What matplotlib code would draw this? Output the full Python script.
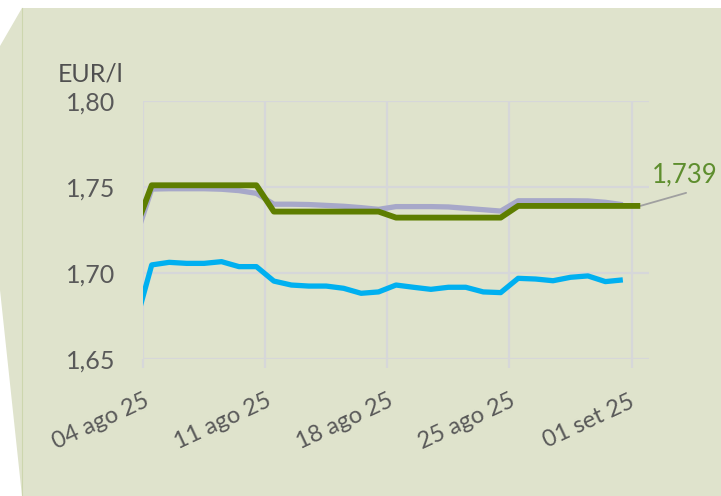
import numpy as np
import matplotlib
matplotlib.use("Agg")
import matplotlib.pyplot as plt
import matplotlib.dates as mdates
from matplotlib.patches import Polygon
from matplotlib.lines import Line2D

plt.rcParams['font.family'] = ['Lato', 'DejaVu Sans']

# ---- data -------------------------------------------------------------
dates = np.arange(np.datetime64('2025-08-03'), np.datetime64('2025-09-02'))
green = [1.724, 1.751, 1.751, 1.751, 1.751, 1.751, 1.751, 1.751,
         1.7357, 1.7357, 1.7357, 1.7357, 1.7357, 1.7357, 1.7357,
         1.7322, 1.7322, 1.7322, 1.7322, 1.7322, 1.7322, 1.7322,
         1.739, 1.739, 1.739, 1.739, 1.739, 1.739, 1.739, 1.739]
gray = [1.718, 1.7488, 1.749, 1.749, 1.749, 1.7487, 1.7479, 1.7463,
        1.740, 1.740, 1.7398, 1.7393, 1.7388, 1.738, 1.737,
        1.7386, 1.7386, 1.7386, 1.7384, 1.7376, 1.7368, 1.736,
        1.742, 1.742, 1.742, 1.742, 1.7419, 1.7411, 1.7397, np.nan]
cyan = [1.668, 1.7047, 1.7062, 1.7056, 1.7056, 1.7066, 1.7037, 1.7037,
        1.6953, 1.693, 1.6924, 1.6924, 1.6911, 1.6882, 1.689,
        1.693, 1.6917, 1.6905, 1.6917, 1.6917, 1.689, 1.6886,
        1.6969, 1.6965, 1.6955, 1.6975, 1.6983, 1.695, 1.696, np.nan]
tick_dates = ['2025-08-04', '2025-08-11', '2025-08-18', '2025-08-25', '2025-09-01']
tick_labels = ['04 ago 25', '11 ago 25', '18 ago 25', '25 ago 25', '01 set 25']
yticks = [1.65, 1.70, 1.75, 1.80]
ytick_labels = ['1,65', '1,70', '1,75', '1,80']
last_label = '1,739'

# ---- figure -----------------------------------------------------------
W, H = 721, 496
fig = plt.figure(figsize=(W / 100, H / 100), dpi=100, facecolor='white')

def fx(px):
    return px / W

def fy(py):
    return 1 - py / H

bg = '#dfe3cc'
poly = Polygon([(fx(22), fy(8)), (fx(721), fy(8)), (fx(721), fy(496)),
                (fx(22), fy(496)), (fx(0), fy(290)), (fx(0), fy(46))],
               closed=True, transform=fig.transFigure, facecolor=bg,
               edgecolor='none', zorder=-2)
fig.patches.append(poly)
fig.lines.append(Line2D([fx(22), fx(22)], [fy(8), fy(496)],
                        transform=fig.transFigure, color='#cdd6ae', lw=0.8,
                        zorder=-1))

ax = fig.add_axes([fx(143), fy(359), fx(649) - fx(143), fy(101) - fy(359)])
ax.set_facecolor('none')

xd = dates.astype('datetime64[h]') + np.timedelta64(12, 'h')
x = mdates.date2num(xd.astype('O'))

grid_c = '#d6d7d9'
ax.plot(x, gray, color='#a7a8c9', lw=3.8, solid_capstyle='butt', zorder=3)
ax.plot(x, green, color='#5e7e00', lw=4.2, solid_capstyle='butt', zorder=4)
ax.plot(x, cyan, color='#00b0f0', lw=3.8, solid_capstyle='butt', zorder=4)

x0 = mdates.date2num(np.datetime64('2025-08-04').astype('O'))
x1 = mdates.date2num(np.datetime64('2025-09-02').astype('O'))
ax.set_xlim(x0, x1)
ax.set_ylim(1.65, 1.80)

tx = [mdates.date2num(np.datetime64(d).astype('O')) for d in tick_dates]
ax.set_xticks(tx)
ax.set_xticklabels([''] * len(tx))
ax.set_yticks(yticks)
ax.set_yticklabels(ytick_labels)
for s in ax.spines.values():
    s.set_visible(False)
ax.grid(True, color=grid_c, lw=1.6)
ax.tick_params(axis='x', length=6.5, width=1.6, color=grid_c, direction='out')
ax.tick_params(axis='y', length=0, pad=20, labelsize=18, labelcolor='#595959')

for t, lab in zip(tx, tick_labels):
    ax.annotate(lab, xy=(t, 0), xycoords=('data', 'axes fraction'),
                xytext=(-30.5, -45), textcoords='offset points',
                ha='center', va='center', rotation=25, rotation_mode='anchor',
                fontsize=17, color='#595959', annotation_clip=False)

# leader line and label of last green value
ax.annotate('', xy=(x[-1], green[-1]), xycoords='data',
            xytext=(33, 9.4), textcoords='offset points',
            annotation_clip=False,
            arrowprops=dict(arrowstyle='-', color='#a0a0a0', lw=1.3,
                            shrinkA=0, shrinkB=0))
ax.annotate(last_label, xy=(x[-1], green[-1]), xycoords='data',
            xytext=(8, 17.3), textcoords='offset points',
            ha='left', va='baseline', fontsize=18.5, color='#5e8e2e',
            annotation_clip=False)

fig.text(fx(58), fy(82), 'EUR/l', fontsize=18, color='#505050',
         ha='left', va='baseline')

fig.savefig('out.png', dpi=100, facecolor='white')
